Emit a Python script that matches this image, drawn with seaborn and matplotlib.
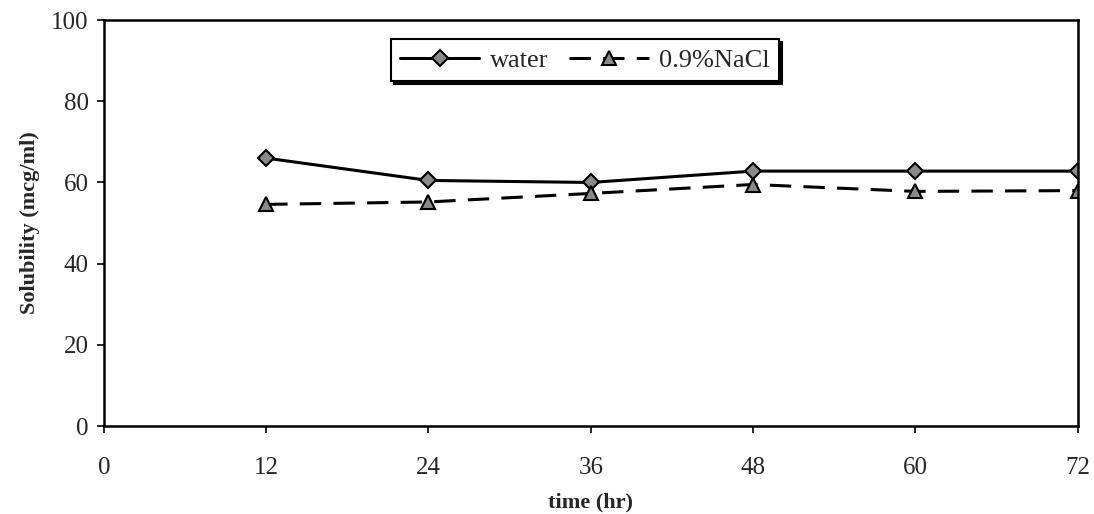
import matplotlib
matplotlib.use("Agg")
import matplotlib.pyplot as plt
import seaborn as sns
import pandas as pd

time_hr = [12, 24, 36, 48, 60, 72]
water = [66.0, 60.5, 60.0, 62.8, 62.8, 62.8]
nacl = [54.6, 55.2, 57.3, 59.5, 57.8, 58.0]
series_names = ["water", "0.9%NaCl"]
x_ticks = [0, 12, 24, 36, 48, 60, 72]
y_ticks = [0, 20, 40, 60, 80, 100]

df = pd.DataFrame({
    "time": time_hr * 2,
    "value": water + nacl,
    "series": [series_names[0]] * len(time_hr) + [series_names[1]] * len(time_hr),
})

sns.set_style("ticks")
plt.rcParams["font.family"] = ["Liberation Serif", "DejaVu Serif"]

fig = plt.figure(figsize=(10.94, 5.14), dpi=100)
ax = fig.add_axes([0.095, 0.171, 0.890, 0.790])

sns.lineplot(data=df, x="time", y="value", style="series", hue="series",
             palette={series_names[0]: "black", series_names[1]: "black"},
             markers={series_names[0]: "D", series_names[1]: "^"},
             dashes={series_names[0]: "", series_names[1]: (7, 4)},
             linewidth=2.2, markersize=9, markerfacecolor="#8a8a8a",
             markeredgecolor="black", markeredgewidth=1.5, ax=ax, legend=False)

for line in ax.get_lines():
    if line.get_marker() == "D":
        line.set_markersize(8)
    elif line.get_marker() == "^":
        line.set_markersize(10.5)

ax.set_xlim(0, 72)
ax.set_ylim(0, 100)
ax.set_xticks(x_ticks)
ax.set_yticks(y_ticks)
ax.tick_params(axis="both", labelsize=18, direction="out", length=5, width=1.2, color="black")
ax.tick_params(axis="x", pad=17)
ax.tick_params(axis="y", pad=6)
for s in ax.spines.values():
    s.set_visible(True)
    s.set_linewidth(1.8)
    s.set_color("black")

ax.set_xlabel("time (hr)", fontsize=16, fontweight="bold", labelpad=10)
ax.set_ylabel("Solubility (mcg/ml)", fontsize=16, fontweight="bold", labelpad=8)

handles = ax.get_lines()[:2]
leg = ax.legend(handles, series_names, loc="upper center", bbox_to_anchor=(0.494, 0.985),
                ncol=2, frameon=True, fancybox=False, shadow={"color": "black", "alpha": 1.0},
                fontsize=19, handlelength=3.0, columnspacing=0.8, handletextpad=0.4,
                borderpad=0.35)
leg.get_frame().set_edgecolor("black")
leg.get_frame().set_linewidth(1.5)
leg.get_frame().set_facecolor("white")

fig.savefig("out.png", dpi=100)
